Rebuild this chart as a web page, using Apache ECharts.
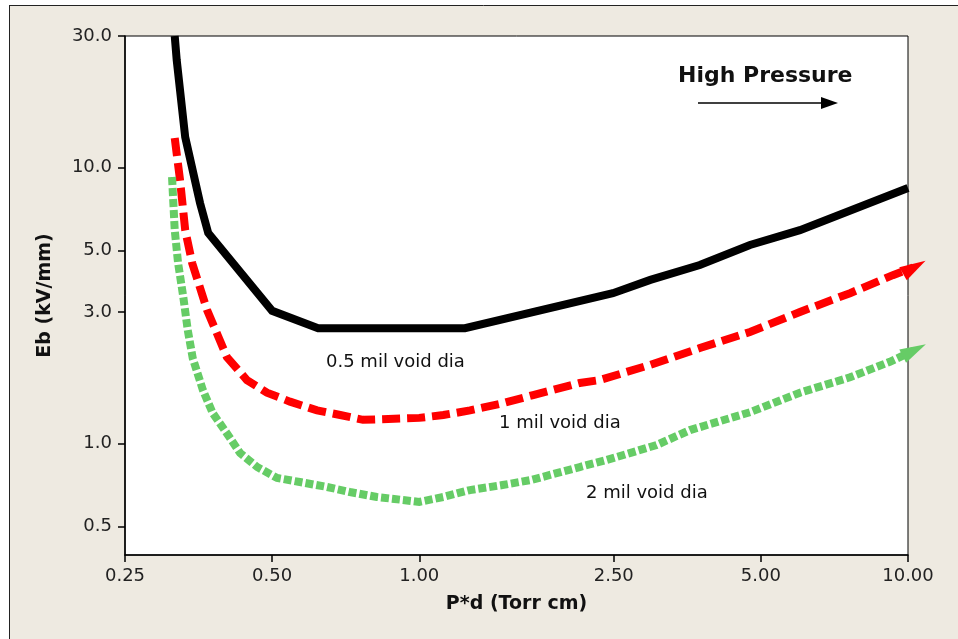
<!DOCTYPE html>
<html><head><meta charset="utf-8">
<script src="https://cdn.jsdelivr.net/npm/echarts@6/dist/echarts.min.js"></script>
<style>html,body{margin:0;padding:0;background:#fff}#c{width:958px;height:639px}</style>
</head><body><div id="c"></div>
<script>
// Tick labels
const xTicks = [0.25, 0.5, 1, 2.5, 5, 10];
const xTickLabels = ['0.25', '0.50', '1.00', '2.50', '5.00', '10.00'];
const yTicks = [0.5, 1, 3, 5, 10, 30];
const yTickLabels = ['0.5', '1.0', '3.0', '5.0', '10.0', '30.0'];

// 0.5 mil void dia (black, solid)
const blackX = [0.316, 0.319, 0.332, 0.356, 0.370, 0.50, 0.621, 1.24, 2.49, 2.97, 3.75, 4.75, 6.01, 10.0];
const blackY = [30, 24.5, 12.9, 7.45, 5.8, 3.03, 2.62, 2.62, 3.51, 3.92, 4.44, 5.25, 5.94, 8.44];

// 1 mil void dia (red, dashed)
const redX = [0.316, 0.324, 0.332, 0.343, 0.368, 0.404, 0.444, 0.488, 0.544, 0.618, 0.689, 0.767, 1.0, 1.12, 1.27, 1.48, 1.71, 2.13, 2.34, 2.97, 3.75, 4.75, 6.01, 7.61, 9.31, 10.3];
const redY = [12.8, 9.02, 5.94, 4.52, 3.05, 2.06, 1.70, 1.53, 1.42, 1.32, 1.27, 1.22, 1.24, 1.27, 1.32, 1.40, 1.50, 1.66, 1.70, 1.93, 2.22, 2.54, 3.0, 3.51, 4.08, 4.36];

// 2 mil void dia (green, dotted)
const greenX = [0.312, 0.316, 0.321, 0.329, 0.336, 0.344, 0.361, 0.378, 0.404, 0.430, 0.466, 0.512, 0.570, 0.647, 0.721, 0.819, 0.926, 1.0, 1.12, 1.27, 1.48, 1.69, 2.13, 2.42, 3.06, 3.58, 4.75, 6.01, 7.61, 9.18, 10.3];
const greenY = [9.25, 5.94, 4.52, 3.40, 2.58, 2.04, 1.56, 1.29, 1.09, 0.925, 0.823, 0.751, 0.726, 0.697, 0.668, 0.641, 0.625, 0.615, 0.641, 0.679, 0.708, 0.738, 0.823, 0.873, 0.989, 1.12, 1.30, 1.53, 1.74, 1.98, 2.18];

const seriesNames = ['0.5 mil void dia', '1 mil void dia', '2 mil void dia'];

function zip(a, b) { return a.map((v, i) => [v, b[i]]); }
function nearestLabel(v, ticks, labels) {
  let best = 0;
  for (let i = 1; i < ticks.length; i++) {
    if (Math.abs(Math.log(ticks[i]) - Math.log(v)) < Math.abs(Math.log(ticks[best]) - Math.log(v))) best = i;
  }
  return labels[best];
}

const FONT = 'DejaVu Sans';
const chart = echarts.init(document.getElementById('c'), null, {renderer: 'canvas'});

// arrowhead drawn as the symbol of the final point only
const arrowSeries = (name, xs, ys, color, dash, rot) => ({
  name: name, type: 'line', data: zip(xs, ys), clip: false, silent: true,
  showSymbol: true, showAllSymbol: true,
  symbol: (val, params) => params.dataIndex === xs.length - 1 ? 'triangle' : 'none',
  symbolSize: [15, 26],
  symbolRotate: rot,
  itemStyle: {color: color},
  lineStyle: {color: color, width: 8, type: dash, cap: 'butt', join: 'miter'}
});

chart.setOption({
  animation: false,
  backgroundColor: '#EEEAE1',
  grid: {left: 125, top: 36, right: 50, bottom: 84, show: true, backgroundColor: '#fff', borderColor: '#000', borderWidth: 1},
  xAxis: {
    type: 'log', logBase: 10, min: 0.25, max: 10,
    name: 'P*d (Torr cm)', nameLocation: 'middle', nameGap: 40,
    nameTextStyle: {fontFamily: FONT, fontWeight: 'bold', fontSize: 19, color: '#111'},
    axisLine: {show: true, lineStyle: {color: '#000', width: 1.5}},
    axisTick: {show: true, inside: false, length: 7, customValues: xTicks, lineStyle: {color: '#000', width: 1.5}},
    axisLabel: {customValues: xTicks, margin: 12, fontFamily: FONT, fontSize: 18, color: '#222',
      formatter: v => nearestLabel(v, xTicks, xTickLabels)},
    splitLine: {show: false}, minorTick: {show: false}
  },
  yAxis: {
    type: 'log', logBase: 10, min: 0.395, max: 30,
    name: 'Eb (kV/mm)', nameLocation: 'middle', nameGap: 70,
    nameTextStyle: {fontFamily: FONT, fontWeight: 'bold', fontSize: 19, color: '#111'},
    axisLine: {show: true, lineStyle: {color: '#000', width: 1.5}},
    axisTick: {show: true, inside: false, length: 7, customValues: yTicks, lineStyle: {color: '#000', width: 1.5}},
    axisLabel: {customValues: yTicks, margin: 13, fontFamily: FONT, fontSize: 18, color: '#222',
      formatter: v => nearestLabel(v, yTicks, yTickLabels)},
    splitLine: {show: false}, minorTick: {show: false}
  },
  series: [
    {name: seriesNames[0], type: 'line', data: zip(blackX, blackY), symbol: 'none', clip: false, silent: true,
     lineStyle: {color: '#000', width: 8, cap: 'butt', join: 'miter'}},
    arrowSeries(seriesNames[1], redX, redY, '#FF0000', [18, 7], -60),
    arrowSeries(seriesNames[2], greenX, greenY, '#66CC66', [8, 3], -63)
  ],
  graphic: [
    {type: 'rect', shape: {x: 0, y: 0, width: 958, height: 5}, style: {fill: '#fff'}, silent: true},
    {type: 'rect', shape: {x: 0, y: 0, width: 9, height: 639}, style: {fill: '#fff'}, silent: true},
    {type: 'line', shape: {x1: 9, y1: 5.5, x2: 958, y2: 5.5}, style: {stroke: '#222', lineWidth: 1}, silent: true},
    {type: 'line', shape: {x1: 9.5, y1: 5, x2: 9.5, y2: 639}, style: {stroke: '#222', lineWidth: 1}, silent: true},
    {type: 'text', left: 678, top: 65, silent: true,
     style: {text: 'High Pressure', fontFamily: FONT, fontWeight: 'bold', fontSize: 22, fill: '#111'}},
    {type: 'line', shape: {x1: 698, y1: 103, x2: 824, y2: 103}, style: {stroke: '#000', lineWidth: 1.5}, silent: true},
    {type: 'polygon', shape: {points: [[821, 97], [838, 103], [821, 109]]}, style: {fill: '#000'}, silent: true},
    {type: 'text', left: 326, top: 353, silent: true,
     style: {text: seriesNames[0], fontFamily: FONT, fontSize: 18, fill: '#111'}},
    {type: 'text', left: 499, top: 414, silent: true,
     style: {text: seriesNames[1], fontFamily: FONT, fontSize: 18, fill: '#111'}},
    {type: 'text', left: 586, top: 484, silent: true,
     style: {text: seriesNames[2], fontFamily: FONT, fontSize: 18, fill: '#111'}}
  ]
});
</script></body></html>
